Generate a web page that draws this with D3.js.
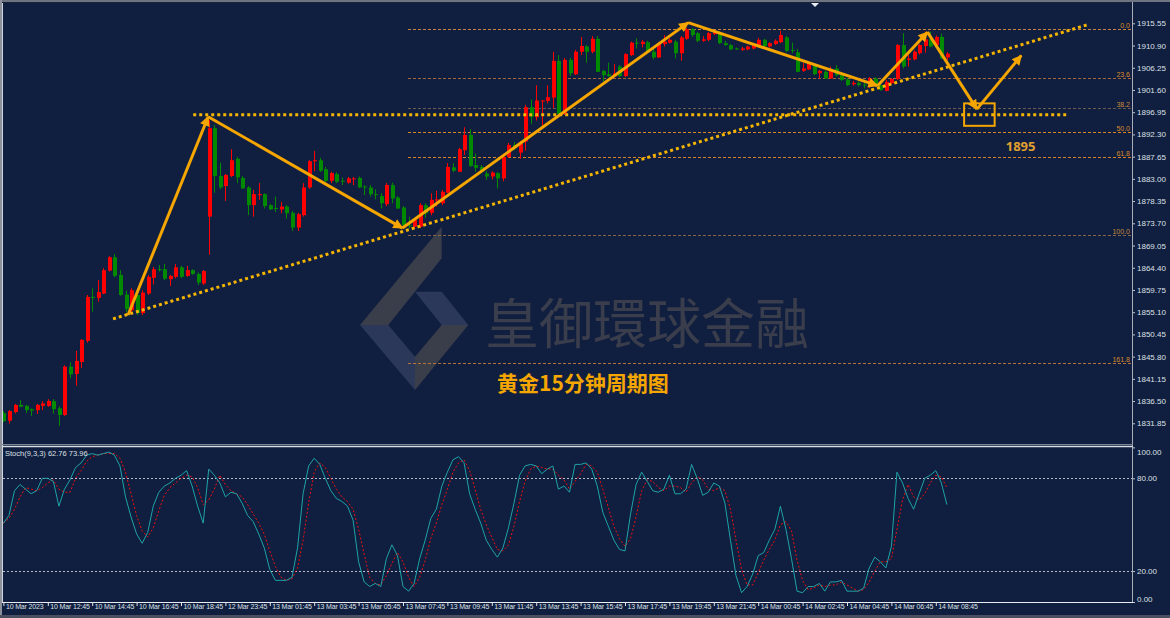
<!DOCTYPE html>
<html>
<head>
<meta charset="utf-8">
<script src="https://cdn.jsdelivr.net/npm/d3@7"></script>
<style>
  html, body { margin: 0; padding: 0; background: #101e3f; }
  svg { display: block; }
</style>
</head>
<body>
<svg id="chart" width="1170" height="618"></svg>
<script>
// ---- datos (XAUUSD M15) ----
const opens = [1834.0,1832.4,1834.2,1835.7,1835.5,1834.8,1834.6,1835.5,1835.5,1836.5,1835.0,1833.6,1843.7,1842.2,1844.7,1849.1,1858.3,1858.1,1859.0,1863.8,1866.6,1862.9,1858.8,1855.5,1858.7,1854.9,1859.0,1862.3,1864.1,1864.1,1862.0,1862.5,1864.5,1862.7,1863.9,1863.1,1861.1,1875.1,1893.6,1883.6,1881.5,1883.6,1887.2,1883.2,1881.2,1877.5,1879.6,1879.8,1877.5,1876.9,1876.6,1877.2,1875.9,1872.8,1875.4,1881.2,1886.7,1886.9,1885.0,1882.6,1884.0,1882.6,1882.2,1882.9,1883.2,1881.4,1881.2,1879.8,1879.4,1877.7,1881.7,1879.1,1877.0,1873.3,1873.0,1873.0,1877.5,1875.9,1878.5,1877.9,1880.1,1885.4,1884.5,1889.0,1892.2,1885.9,1885.5,1884.1,1883.5,1884.2,1883.1,1887.6,1890.1,1888.5,1890.8,1898.0,1895.9,1899.3,1899.3,1900.0,1907.7,1896.6,1907.9,1904.9,1909.6,1910.7,1909.6,1912.3,1905.6,1904.9,1904.5,1906.5,1904.5,1908.9,1911.5,1911.2,1911.6,1909.6,1908.4,1911.2,1911.5,1911.7,1909.3,1912.3,1914.3,1913.5,1911.9,1912.1,1913.3,1913.7,1911.4,1911.0,1910.3,1910.0,1910.1,1910.3,1911.0,1912.1,1910.7,1911.2,1911.6,1912.6,1910.0,1909.5,1905.6,1905.9,1906.8,1905.1,1905.4,1904.0,1906.1,1904.7,1903.8,1902.8,1903.1,1902.7,1902.3,1904.0,1902.6,1901.4,1903.0,1903.9,1911.0,1907.9,1908.0,1909.3,1910.8,1912.2,1911.0,1912.7,1908.4];
const highs = [1834.4,1834.6,1835.9,1836.7,1835.7,1835.0,1835.9,1836.5,1836.9,1836.9,1835.4,1844.0,1844.6,1847.0,1849.5,1858.7,1860.1,1861.8,1864.3,1866.8,1867.3,1863.9,1859.6,1860.1,1859.1,1859.7,1862.9,1864.6,1865.0,1865.2,1862.9,1865.2,1864.8,1864.8,1864.1,1863.4,1863.9,1895.3,1894.3,1886.4,1884.0,1889.2,1887.6,1883.6,1881.5,1880.7,1882.1,1880.0,1877.7,1879.3,1878.2,1877.5,1876.3,1875.9,1882.1,1886.9,1888.8,1887.4,1885.5,1884.5,1884.4,1883.3,1883.4,1883.4,1883.5,1881.7,1881.7,1880.8,1880.0,1882.1,1882.2,1879.4,1877.3,1875.1,1874.8,1877.9,1877.9,1880.0,1880.5,1880.7,1886.3,1886.3,1889.5,1893.8,1893.4,1888.3,1885.9,1884.6,1884.6,1884.4,1888.0,1890.5,1890.7,1890.9,1898.5,1899.6,1902.6,1899.5,1902.6,1909.6,1908.9,1908.3,1908.3,1910.0,1912.7,1911.0,1912.9,1912.9,1905.8,1907.3,1907.0,1906.8,1909.3,1911.7,1912.4,1912.1,1911.9,1910.5,1911.4,1913.1,1912.4,1912.1,1912.9,1914.6,1914.6,1913.7,1912.9,1913.7,1913.9,1913.9,1911.9,1911.2,1910.5,1910.6,1910.9,1911.2,1912.5,1912.3,1911.6,1912.2,1914.0,1912.9,1911.5,1910.2,1907.2,1907.5,1907.1,1905.8,1905.7,1906.5,1906.8,1904.9,1904.1,1903.5,1903.4,1903.3,1904.3,1904.3,1903.0,1903.7,1904.1,1911.2,1913.5,1908.9,1909.9,1911.2,1913.8,1913.8,1913.0,1913.4,1909.5];
const lows = [1832.1,1831.8,1833.9,1835.2,1834.0,1833.4,1833.8,1834.6,1835.3,1833.9,1831.3,1833.4,1841.3,1839.7,1843.4,1848.7,1855.2,1857.3,1858.9,1863.6,1862.4,1858.5,1855.1,1855.1,1854.5,1854.5,1858.7,1860.9,1863.6,1861.8,1860.6,1862.2,1862.2,1862.5,1862.9,1860.8,1860.8,1867.1,1880.1,1880.8,1878.4,1883.4,1882.1,1880.9,1875.4,1875.1,1878.6,1876.8,1876.5,1876.1,1875.8,1874.7,1872.1,1872.1,1875.1,1880.9,1884.6,1884.4,1882.1,1882.1,1882.1,1881.7,1882.0,1881.7,1881.1,1879.6,1879.3,1878.7,1876.8,1877.3,1877.9,1876.7,1873.1,1872.6,1872.5,1872.7,1874.8,1875.4,1877.2,1877.5,1880.0,1884.4,1884.4,1888.0,1885.5,1884.5,1884.2,1882.8,1882.9,1881.0,1882.5,1887.4,1889.0,1887.2,1888.9,1894.5,1895.2,1893.6,1898.8,1897.8,1896.4,1896.4,1904.5,1904.7,1908.9,1907.3,1909.3,1905.4,1903.3,1904.3,1904.3,1904.3,1904.3,1908.7,1910.3,1910.5,1909.3,1908.0,1908.3,1910.7,1911.3,1908.2,1907.7,1912.1,1912.7,1911.6,1911.7,1911.8,1913.1,1911.2,1910.8,1909.9,1910.0,1909.8,1909.9,1910.1,1910.8,1910.6,1910.5,1911.0,1911.4,1909.5,1909.3,1905.3,1905.4,1905.8,1904.7,1904.0,1903.9,1903.9,1904.4,1903.5,1902.4,1902.5,1902.3,1901.9,1902.0,1902.2,1901.4,1901.3,1902.8,1903.7,1906.1,1906.5,1907.8,1909.0,1909.4,1910.5,1910.8,1908.1,1907.9];
const closes = [1832.3,1834.4,1835.7,1835.3,1834.6,1834.5,1835.7,1836.0,1836.5,1834.8,1833.6,1843.7,1842.1,1844.9,1849.3,1858.3,1858.1,1859.3,1863.9,1866.6,1862.7,1858.7,1855.8,1859.7,1854.9,1859.2,1862.5,1864.1,1863.9,1862.1,1862.7,1864.5,1862.5,1863.9,1863.1,1861.3,1863.7,1893.6,1883.6,1881.2,1883.8,1886.9,1883.3,1881.0,1877.5,1879.8,1879.8,1877.3,1876.6,1876.7,1877.2,1875.8,1872.8,1875.6,1881.2,1886.7,1886.9,1884.7,1882.6,1884.2,1882.4,1882.4,1883.1,1883.1,1881.2,1881.2,1879.8,1879.6,1877.9,1881.7,1878.9,1876.8,1873.3,1873.1,1874.4,1877.5,1875.8,1878.6,1878.7,1880.3,1885.5,1884.7,1889.2,1892.2,1885.7,1885.3,1884.5,1883.5,1884.3,1883.1,1887.6,1890.1,1889.4,1890.4,1898.0,1896.0,1899.4,1899.4,1900.1,1907.7,1896.6,1907.9,1905.1,1909.6,1910.8,1909.6,1912.3,1905.4,1904.7,1904.5,1905.1,1904.5,1909.1,1911.5,1911.4,1911.7,1909.5,1908.4,1911.2,1911.7,1912.1,1909.3,1912.6,1914.3,1913.1,1911.9,1912.2,1913.5,1913.7,1911.4,1911.0,1910.1,1910.1,1910.3,1910.7,1911.0,1912.1,1910.8,1911.4,1911.9,1913.1,1909.8,1909.8,1905.4,1906.1,1907.2,1904.9,1905.6,1904.0,1905.6,1904.7,1903.7,1902.6,1903.1,1902.6,1902.6,1904.0,1902.6,1901.6,1903.3,1903.9,1911.0,1906.5,1908.2,1909.6,1911.0,1912.2,1910.7,1912.7,1908.2,1909.2];
// Estocástico (9,3,3): %K y %D
const stochK = [51,56,72,76,73,70,72,80,80,78,62,73,79,87,90,95,96,95,96,97,95,88,68,55,44,38,45,62,71,75,77,80,82,85,75,62,51,86,82,77,68,71,70,64,56,52,44,35,21,14,14,14,16,35,70,88,93,89,80,72,67,65,62,53,26,13,10,12,10,28,37,30,10,7,12,28,40,54,60,75,84,92,94,90,70,60,51,40,34,29,35,48,64,82,88,89,88,83,86,88,73,75,71,89,89,90,86,75,58,49,40,34,33,57,76,84,78,72,71,73,82,70,70,73,89,80,69,71,77,75,64,40,17,6,10,18,30,32,40,47,62,47,28,7,6,10,10,12,7,13,13,14,7,7,7,9,22,29,26,22,36,84,77,67,60,70,80,82,85,77,63];
const stochD = [51,54,60,68,74,73,72,74,77,79,73,71,71,80,85,91,94,95,96,96,96,93,84,70,56,46,42,48,59,69,74,77,80,82,81,74,63,66,73,82,76,72,70,68,63,57,51,44,33,23,16,14,15,22,40,64,84,90,87,80,73,68,65,60,47,31,16,12,11,17,25,32,26,16,10,16,27,41,51,63,73,84,90,92,85,73,60,50,42,34,33,37,49,65,78,86,88,87,86,86,82,79,73,78,83,89,88,84,73,61,49,41,36,41,55,72,79,78,74,72,75,75,74,71,77,81,79,73,72,74,72,60,40,21,11,11,19,27,34,40,50,52,46,27,14,8,9,11,10,11,11,13,11,9,7,8,13,20,26,26,28,47,66,76,68,66,70,77,82,81,74];

const priceTicks = [1915.55,1910.90,1906.25,1901.60,1896.95,1892.30,1887.65,1883.00,1878.35,1873.70,1869.05,1864.40,1859.75,1855.10,1850.45,1845.80,1841.15,1836.50,1831.85];
const stochTicks = [100, 80, 20, 0];
const timeLabels = ['10 Mar 2023','10 Mar 12:45','10 Mar 14:45','10 Mar 16:45','10 Mar 18:45','12 Mar 23:45','13 Mar 01:45','13 Mar 03:45','13 Mar 05:45','13 Mar 07:45','13 Mar 09:45','13 Mar 11:45','13 Mar 13:45','13 Mar 15:45','13 Mar 17:45','13 Mar 19:45','13 Mar 21:45','14 Mar 00:45','14 Mar 02:45','14 Mar 04:45','14 Mar 06:45','14 Mar 08:45'];
const labelBars = timeLabels.map((_, i) => i * 8);

// Fibonacci del mínimo (barra 73) al máximo (barra 123)
const fibLevels = [0, 23.6, 38.2, 50, 61.8, 100, 161.8];
const fibHigh = 1914.3;
const fibLow = 1871.2;
const fibStartBar = 72.9;

// Anotaciones: zigzag, línea de tendencia, soporte, caja objetivo
const zigBars = [22.45, 36.9, 71.9, 123.4, 157.5, 166.5, 175.4, 183.4];
const zigPrices = [1854.5, 1896.0, 1872.7, 1915.7, 1902.5, 1913.7, 1897.6, 1908.8];
const trendBars = [19.75, 195.2];
const trendPrices = [1853.7, 1915.2];
const supportBars = [34.2, 191.8];
const supportPrice = 1896.4;
const boxBars = [173.1, 178.6];
const boxPrices = [1898.8, 1894.1];
const targetLabel = { bar: 180.6, price: 1888.8, text: '1895' };

const titulo = '黄金15分钟周期图';
const marcaAgua = '皇御環球金融';
const stochTitulo = 'Stoch(9,3,3) 62.76 73.96';

// ---- estilos ----
const BG = '#101e3f';
const ORO = '#f5a600';
const PUNTOS = '#f5b500';
const ALZA = '#ff0000';
const BAJA = '#008a00';
const TEXTO = '#dde0e6';
const FUENTE = '"Liberation Sans", Arial, sans-serif';

const L = 3.4, R = 1132, MAIN_T = 3, MAIN_B = 445, STO_T = 447.4, STO_B = 602;

const svg = d3.select('#chart');
svg.append('rect').attr('width', 1170).attr('height', 618).attr('fill', BG);

const x = d3.scaleLinear().domain([0, 203.35]).range([L, R]);
const y = d3.scaleLinear().domain([1827.31, 1919.8]).range([MAIN_B, MAIN_T]);
const ys = d3.scaleLinear().domain([0, 100]).range([STO_B, STO_T]);

const defs = svg.append('defs');
defs.append('clipPath').attr('id', 'clipMain')
  .append('rect').attr('x', 3).attr('y', MAIN_T).attr('width', R - 3).attr('height', MAIN_B - MAIN_T);
defs.append('clipPath').attr('id', 'clipSto')
  .append('rect').attr('x', 3).attr('y', STO_T - 2).attr('width', R - 3).attr('height', STO_B - STO_T + 2);
defs.append('marker')
  .attr('id', 'punta')
  .attr('viewBox', '0 0 10 10')
  .attr('refX', 9).attr('refY', 5)
  .attr('markerWidth', 12).attr('markerHeight', 10)
  .attr('markerUnits', 'userSpaceOnUse')
  .attr('orient', 'auto')
  .append('path').attr('d', 'M0,0L10,5L0,10z').attr('fill', ORO);

// ---- marca de agua ----
const agua = svg.append('g').attr('class', 'marca-agua');
const logo = [
  { pts: [[441.7,226.7],[441.7,258.3],[388.3,325],[360,325]], fill: '#3a3d4a' },
  { pts: [[360,325],[388.3,325],[415,356.7],[415,390]], fill: '#2b3859' },
  { pts: [[415,291.7],[441.7,291.7],[468.3,325],[441.7,325]], fill: '#2b3859' },
  { pts: [[441.7,325],[468.3,325],[415,390],[415,356.7]], fill: '#3a3d4a' }
];
agua.selectAll('polygon').data(logo).enter().append('polygon')
  .attr('points', (d) => d.pts.map((p) => p.join(',')).join(' '))
  .attr('fill', (d) => d.fill);
agua.append('text')
  .attr('x', 485).attr('y', 344)
  .attr('font-family', '"Noto Sans CJK TC", "Noto Sans CJK SC", sans-serif')
  .attr('font-size', 54)
  .attr('fill', '#393d4c')
  .text(marcaAgua);

// ---- panel principal ----
const main = svg.append('g').attr('clip-path', 'url(#clipMain)');

// niveles de Fibonacci
const fibColor = (lv) => ({ 0: '#c98540', 23.6: '#a5673a', 38.2: '#6d5a50', 50: '#d8852a', 61.8: '#d8852a', 100: '#8a6648', 161.8: '#b5733a' }[lv]);
const fibPrice = (lv) => fibHigh - (fibHigh - fibLow) * lv / 100;
main.selectAll('line.fib').data(fibLevels).enter().append('line')
  .attr('class', 'fib')
  .attr('x1', x(fibStartBar)).attr('x2', R - 1)
  .attr('y1', (d) => Math.round(y(fibPrice(d))) + 0.5)
  .attr('y2', (d) => Math.round(y(fibPrice(d))) + 0.5)
  .attr('stroke', fibColor)
  .attr('stroke-width', 1)
  .attr('stroke-dasharray', '3,2');
main.selectAll('text.fib').data(fibLevels).enter().append('text')
  .attr('class', 'fib')
  .attr('x', R - 2)
  .attr('y', (d) => Math.round(y(fibPrice(d))) - 1)
  .attr('text-anchor', 'end')
  .attr('font-family', FUENTE)
  .attr('font-size', 7)
  .attr('fill', (d) => (d === 38.2 || d === 100 ? '#c88a3a' : '#d88a2a'))
  .text((d) => d.toFixed(1));

// velas
const velas = d3.range(opens.length).map((i) => ({ i, o: opens[i], h: highs[i], l: lows[i], c: closes[i] }));
const gVelas = main.append('g').attr('class', 'velas');
gVelas.selectAll('line').data(velas).enter().append('line')
  .attr('x1', (d) => Math.round(x(d.i)) + 0.5)
  .attr('x2', (d) => Math.round(x(d.i)) + 0.5)
  .attr('y1', (d) => y(d.h))
  .attr('y2', (d) => y(d.l))
  .attr('stroke', (d) => (d.c >= d.o ? ALZA : BAJA))
  .attr('stroke-width', 1);
gVelas.selectAll('rect').data(velas).enter().append('rect')
  .attr('x', (d) => Math.round(x(d.i)) - 1)
  .attr('width', 4)
  .attr('y', (d) => y(Math.max(d.o, d.c)))
  .attr('height', (d) => Math.max(1, Math.abs(y(d.o) - y(d.c))))
  .attr('fill', (d) => (d.c >= d.o ? ALZA : BAJA));

// línea de tendencia y soporte punteados
main.append('line')
  .attr('x1', x(trendBars[0])).attr('y1', y(trendPrices[0]))
  .attr('x2', x(trendBars[1])).attr('y2', y(trendPrices[1]))
  .attr('stroke', PUNTOS).attr('stroke-width', 3).attr('stroke-dasharray', '3,3');
main.append('line')
  .attr('x1', x(supportBars[0])).attr('x2', x(supportBars[1]))
  .attr('y1', y(supportPrice)).attr('y2', y(supportPrice))
  .attr('stroke', PUNTOS).attr('stroke-width', 3).attr('stroke-dasharray', '3,3');

// zigzag con flechas
const tramos = d3.range(zigBars.length - 1).map((i) => [i, i + 1]);
main.selectAll('line.zig').data(tramos).enter().append('line')
  .attr('class', 'zig')
  .attr('x1', (d) => x(zigBars[d[0]])).attr('y1', (d) => y(zigPrices[d[0]]))
  .attr('x2', (d) => x(zigBars[d[1]])).attr('y2', (d) => y(zigPrices[d[1]]))
  .attr('stroke', ORO).attr('stroke-width', 3)
  .attr('marker-end', 'url(#punta)');

// caja objetivo
main.append('rect')
  .attr('x', x(boxBars[0])).attr('y', y(boxPrices[0]))
  .attr('width', x(boxBars[1]) - x(boxBars[0]))
  .attr('height', y(boxPrices[1]) - y(boxPrices[0]))
  .attr('fill', 'none').attr('stroke', ORO).attr('stroke-width', 2);
main.append('text')
  .attr('x', x(targetLabel.bar)).attr('y', y(targetLabel.price))
  .attr('font-family', '"Noto Sans", sans-serif').attr('font-weight', 'bold')
  .attr('font-size', 13).attr('fill', '#e0a030')
  .text(targetLabel.text);

main.append('text')
  .attr('x', 497).attr('y', 391)
  .attr('font-family', '"Noto Sans CJK SC", sans-serif').attr('font-weight', 'bold')
  .attr('font-size', 21).attr('fill', ORO)
  .text(titulo);

// eje de precios
const ejeY = svg.append('g').attr('transform', `translate(${R},0)`)
  .call(d3.axisRight(y).tickValues(priceTicks).tickSize(3).tickFormat(d3.format('.2f')));
ejeY.select('.domain').remove();
ejeY.selectAll('line').attr('stroke', '#c0c4cc');
ejeY.selectAll('text').attr('fill', TEXTO).attr('font-family', FUENTE).attr('font-size', 8).attr('x', 5);

// ---- panel estocástico ----
const sto = svg.append('g').attr('clip-path', 'url(#clipSto)');
sto.selectAll('line.nivel').data([80, 20]).enter().append('line')
  .attr('x1', 3).attr('x2', R)
  .attr('y1', (d) => Math.round(ys(d)) + 0.5).attr('y2', (d) => Math.round(ys(d)) + 0.5)
  .attr('stroke', '#b8bcc8').attr('stroke-width', 1).attr('stroke-dasharray', '2,2');
const linea = d3.line().x((d, i) => x(i)).y((d) => ys(d));
sto.append('path').datum(stochD).attr('d', linea)
  .attr('fill', 'none').attr('stroke', '#ee1010').attr('stroke-width', 1).attr('stroke-dasharray', '2,2');
sto.append('path').datum(stochK).attr('d', linea)
  .attr('fill', 'none').attr('stroke', '#1fa3a6').attr('stroke-width', 1);

svg.append('text').attr('x', 5).attr('y', 456)
  .attr('font-family', FUENTE).attr('font-size', 7.5).attr('fill', TEXTO)
  .text(stochTitulo);

const ejeS = svg.append('g').attr('transform', `translate(${R},0)`)
  .call(d3.axisRight(ys).tickValues(stochTicks).tickSize(3).tickFormat(d3.format('.2f')));
ejeS.select('.domain').remove();
ejeS.selectAll('line').attr('stroke', '#c0c4cc');
ejeS.selectAll('text').attr('fill', TEXTO).attr('font-family', FUENTE).attr('font-size', 8).attr('x', 5)
  .attr('dy', (d) => (d === 100 ? '0.9em' : d === 0 ? '-0.1em' : '0.32em'));

// eje temporal
const ejeX = svg.append('g').attr('transform', `translate(0,${STO_B})`)
  .call(d3.axisBottom(x).tickValues(labelBars).tickSize(4).tickFormat((d, i) => timeLabels[i]));
ejeX.select('.domain').remove();
ejeX.selectAll('line').attr('stroke', '#e0e4ea');
ejeX.selectAll('text').attr('fill', TEXTO).attr('font-family', FUENTE).attr('font-size', 7)
  .attr('letter-spacing', -0.15)
  .attr('text-anchor', 'start').attr('x', 2).attr('y', 2).attr('dy', '0.71em');

// ---- marcos ----
const marco = svg.append('g').attr('fill', 'none');
svg.append('rect').attr('x', 0).attr('y', 0).attr('width', 1170).attr('height', 2).attr('fill', '#6f7482');
svg.append('rect').attr('x', 0).attr('y', 0).attr('width', 2).attr('height', 618).attr('fill', '#8c909a');
marco.append('line').attr('x1', 2.5).attr('x2', 2.5).attr('y1', 2).attr('y2', STO_B).attr('stroke', '#d0d4dc');
marco.append('line').attr('x1', 2).attr('x2', R).attr('y1', 2.5).attr('y2', 2.5).attr('stroke', '#1a2238');
marco.append('line').attr('x1', R + 0.5).attr('x2', R + 0.5).attr('y1', 2).attr('y2', STO_B).attr('stroke', '#a8adb8');
marco.append('line').attr('x1', 2).attr('x2', R + 1).attr('y1', MAIN_B - 0.5).attr('y2', MAIN_B - 0.5).attr('stroke', '#7c8494');
marco.append('line').attr('x1', 2).attr('x2', R + 1).attr('y1', MAIN_B + 1.5).attr('y2', MAIN_B + 1.5).attr('stroke', '#d8dce4').attr('stroke-width', 1.5);
marco.append('line').attr('x1', 2).attr('x2', R + 1).attr('y1', STO_B + 0.5).attr('y2', STO_B + 0.5).attr('stroke', '#e8ecf2');
svg.append('rect').attr('x', 0).attr('y', 615).attr('width', 1170).attr('height', 3).attr('fill', '#4a5060');
svg.append('path').attr('d', 'M811,3L819,3L815,7z').attr('fill', '#e8ecf2');
</script>
</body>
</html>
